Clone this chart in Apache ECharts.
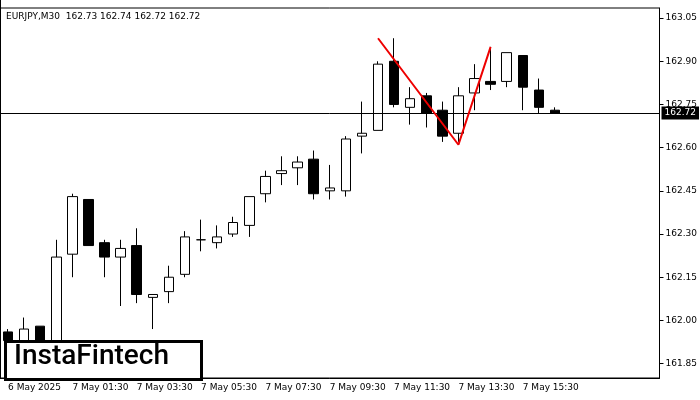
<!DOCTYPE html>
<html><head><meta charset="utf-8">
<script src="https://cdn.jsdelivr.net/npm/echarts@6/dist/echarts.min.js"></script>
<style>html,body{margin:0;padding:0;background:#fff}#c{width:700px;height:400px}</style>
</head><body><div id="c"></div>
<script>
// [open, close, low, high]
const candles = [
  [161.96, 161.93, 161.90, 161.97], [161.93, 161.97, 161.90, 162.01], [161.98, 161.93, 161.90, 161.98],
  [161.90, 162.22, 161.88, 162.28], [162.23, 162.43, 162.15, 162.44], [162.42, 162.26, 162.26, 162.42],
  [162.27, 162.22, 162.15, 162.28], [162.22, 162.25, 162.05, 162.28], [162.26, 162.09, 162.06, 162.32],
  [162.08, 162.09, 161.97, 162.09], [162.10, 162.15, 162.06, 162.19], [162.16, 162.29, 162.15, 162.31],
  [162.28, 162.28, 162.24, 162.35], [162.27, 162.29, 162.25, 162.33], [162.30, 162.34, 162.29, 162.36],
  [162.33, 162.43, 162.29, 162.43], [162.44, 162.50, 162.41, 162.52], [162.51, 162.52, 162.47, 162.57],
  [162.53, 162.55, 162.47, 162.57], [162.56, 162.44, 162.42, 162.59], [162.45, 162.46, 162.42, 162.54],
  [162.45, 162.63, 162.43, 162.64], [162.64, 162.65, 162.58, 162.76], [162.66, 162.89, 162.66, 162.90],
  [162.90, 162.75, 162.74, 162.98], [162.74, 162.77, 162.68, 162.81], [162.78, 162.72, 162.67, 162.79],
  [162.73, 162.64, 162.62, 162.76], [162.65, 162.78, 162.62, 162.81], [162.79, 162.84, 162.73, 162.89],
  [162.83, 162.82, 162.80, 162.95], [162.83, 162.93, 162.81, 162.93], [162.92, 162.81, 162.73, 162.92],
  [162.80, 162.74, 162.72, 162.84], [162.73, 162.72, 162.72, 162.74]
];
const patternLine = [
  null, null, null, null, null, null, null, null, null, null, null, null, null, null, null, null, null, null,
  null, null, null, null, null, 162.98, null, null, null, null, 162.61, null, 162.95
];
const xLabels = ['6 May 2025', '7 May 01:30', '7 May 03:30', '7 May 05:30', '7 May 07:30',
  '7 May 09:30', '7 May 11:30', '7 May 13:30', '7 May 15:30'];
const yTicks = [161.85, 162.00, 162.15, 162.30, 162.45, 162.60, 162.75, 162.90, 163.05];
const lastPrice = 162.72;
const totalSlots = 41;

const cats = [];
for (let i = 0; i < totalSlots; i++) cats.push(i % 4 === 0 ? (xLabels[i / 4] || '') : '');

const chart = echarts.init(document.getElementById('c'));
chart.setOption({
  animation: false,
  textStyle: { fontFamily: 'DejaVu Sans' },
  grid: { left: -3, right: 40, top: 8, bottom: 22, show: true, borderColor: '#000', borderWidth: 1 },
  xAxis: {
    type: 'category', data: cats, boundaryGap: true,
    axisLine: { lineStyle: { color: '#000' } },
    axisTick: { interval: (i) => i % 4 === 0, length: 4, alignWithLabel: true, lineStyle: { color: '#000' } },
    axisLabel: { interval: (i) => i % 4 === 0, color: '#000', fontSize: 9, align: 'left', margin: 5 },
    splitLine: { show: false }
  },
  yAxis: {
    type: 'value', position: 'right', min: 161.80, max: 163.085, scale: true,
    axisLine: { show: true, lineStyle: { color: '#000' } },
    axisTick: { show: true, length: 4, customValues: yTicks, lineStyle: { color: '#000' } },
    axisLabel: { color: '#000', fontSize: 9, margin: 6, customValues: yTicks, formatter: (v) => v.toFixed(2) },
    splitLine: { show: false }
  },
  series: [
    {
      type: 'candlestick', data: candles, barWidth: 10,
      itemStyle: { color: '#fff', color0: '#000', borderColor: '#000', borderColor0: '#000', borderWidth: 1 },
      markLine: {
        symbol: 'none', silent: true,
        lineStyle: { color: '#000', width: 1, type: 'solid' },
        label: { show: true, position: 'end', formatter: lastPrice.toFixed(2), color: '#fff',
          backgroundColor: '#000', fontSize: 9, padding: [2, 3], distance: 2 },
        data: [{ yAxis: lastPrice }]
      }
    },
    {
      type: 'line', data: patternLine, connectNulls: true, showSymbol: false,
      lineStyle: { color: '#e00', width: 2 }, z: 5
    }
  ],
  graphic: [
    { type: 'rect', left: 0, top: 0, shape: { width: 1, height: 378 }, style: { fill: '#000' } },
    { type: 'text', left: 6, top: 12, style: { text: 'EURJPY,M30  162.73 162.74 162.72 162.72', fontSize: 9, fill: '#000', fontFamily: 'DejaVu Sans' } },
    { type: 'rect', left: 4, top: 340, shape: { width: 196, height: 38 }, style: { fill: '#fff', stroke: '#000', lineWidth: 3 }, z: 10 },
    { type: 'text', left: 14, top: 343, style: { text: 'InstaFintech', fontSize: 28, fontWeight: 500, fill: '#000', fontFamily: 'Roboto' }, z: 11 }
  ]
});
</script></body></html>
